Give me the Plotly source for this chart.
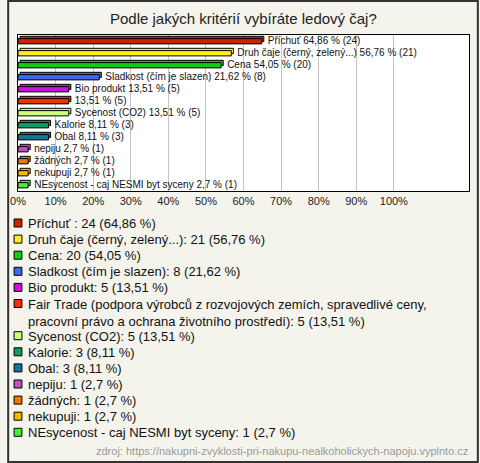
import textwrap

import plotly.graph_objects as go

# survey answers (n = 37)
names = [
    "Příchuť ", "Druh čaje (černý, zelený...)", "Cena", "Sladkost (čím je slazen)",
    "Bio produkt",
    "Fair Trade (podpora výrobců z rozvojových zemích, spravedlivé ceny, "
    "pracovní právo a ochrana životního prostředí)",
    "Sycenost (CO2)", "Kalorie", "Obal", "nepiju", "žádných", "nekupuji",
    "NEsycenost - caj NESMI byt syceny",
]
# label next to the bar (the long Fair Trade name is left out there)
bar_names = [
    "Příchuť ", "Druh čaje (černý, zelený...)", "Cena", "Sladkost (čím je slazen)",
    "Bio produkt", "", "Sycenost (CO2)", "Kalorie", "Obal", "nepiju", "žádných",
    "nekupuji", "NEsycenost - caj NESMI byt syceny",
]
counts = [24, 21, 20, 8, 5, 5, 5, 3, 3, 1, 1, 1, 1]
percents = [64.86, 56.76, 54.05, 21.62, 13.51, 13.51, 13.51, 8.11, 8.11, 2.7, 2.7, 2.7, 2.7]
tick_vals = [0, 10, 20, 30, 40, 50, 60, 70, 80, 90, 100]
tick_text = ["0%", "10%", "20%", "30%", "40%", "50%", "60%", "70%", "80%", "90%", "100%"]

colors = [
    "#cc2200", "#ffee22", "#11cc11", "#4466ee", "#cc11dd", "#ee3300", "#ccff77",
    "#119966", "#117799", "#bb55bb", "#ee7700", "#eebb00", "#44ee33",
]

W, H = 480, 463
L, R, T, B = 11, 10, 35, 272
PW, PH = W - L - R, H - T - B
FONT = "Arial, Liberation Sans, sans-serif"
BG = "#f4f4ec"


def fx(px):
    return (px - L) / PW


def fy(py):
    return (T + PH - py) / PH


def pct(p):
    return f"{p:g}".replace(".", ",")


fig = go.Figure()

# the "3d" face of each bar: shifted a couple of pixels right and up
fig.add_trace(go.Bar(
    y=list(range(len(percents))), x=percents, base=0.55, orientation="h",
    width=0.44, offset=-0.39, marker=dict(color=colors, line=dict(color="#000", width=1)),
    hoverinfo="skip", showlegend=False,
))
fig.add_trace(go.Bar(
    y=list(range(len(percents))), x=percents, base=0, orientation="h",
    width=0.44, offset=-0.2, marker=dict(color=colors, line=dict(color="#000", width=1)),
    showlegend=False,
))

# labels to the right of the bars
labels = [f"{n.strip()} {pct(p)} % ({c})".strip() for n, p, c in zip(bar_names, percents, counts)]
fig.add_trace(go.Scatter(
    y=list(range(len(percents))), x=[p + 1.6 for p in percents], mode="text",
    text=labels, textposition="middle right",
    textfont=dict(family=FONT, size=10, color="#111"),
    hoverinfo="skip", showlegend=False, cliponaxis=False,
))

annotations = [dict(
    text="Podle jakých kritérií vybíráte ledový čaj?", x=fx(240), y=fy(19),
    xref="paper", yref="paper", showarrow=False, xanchor="center", yanchor="middle",
    font=dict(family=FONT, size=15, color="#222"),
)]
shapes = [dict(
    type="rect", xref="paper", yref="paper", x0=fx(1), x1=fx(W - 1),
    y0=fy(1), y1=fy(H - 1), line=dict(color="#333", width=2), layer="below",
)]

# hand-made legend below the chart
line_h = 16.1
row = 0
for name, c, p, col in zip(names, counts, percents, colors):
    lines = textwrap.wrap(f"{name}: {c} ({pct(p)} %)", 70)
    ytop = 223 + row * line_h
    shapes.append(dict(
        type="rect", xref="paper", yref="paper", x0=fx(7), x1=fx(15),
        y0=fy(ytop - 4), y1=fy(ytop + 4), fillcolor=col, line=dict(color="#000", width=1),
    ))
    annotations.append(dict(
        text="<br>".join(lines), x=fx(19), y=fy(ytop - 9), xref="paper", yref="paper",
        showarrow=False, xanchor="left", yanchor="top", align="left",
        font=dict(family=FONT, size=13, color="#111"),
    ))
    row += len(lines)

annotations.append(dict(
    text="zdroj: https://nakupni-zvyklosti-pri-nakupu-nealkoholickych-napoju.vyplnto.cz",
    x=fx(471), y=fy(451), xref="paper", yref="paper", showarrow=False,
    xanchor="right", yanchor="middle", font=dict(family=FONT, size=11, color="#999"),
))

fig.update_layout(
    width=W, height=H, margin=dict(l=L, r=R, t=T, b=B, pad=0),
    paper_bgcolor=BG, plot_bgcolor="#fff", barmode="overlay",
    annotations=annotations, shapes=shapes,
    xaxis=dict(
        range=[0, 120], tickvals=tick_vals, ticktext=tick_text, showgrid=True,
        gridcolor="#c4c4c4", gridwidth=1, zeroline=False, showline=True, mirror=True,
        linecolor="#000", linewidth=1, ticks="", fixedrange=True,
        tickfont=dict(family=FONT, size=11, color="#222"),
    ),
    yaxis=dict(
        range=[len(percents) - 0.5, -0.5], showticklabels=False, showgrid=False,
        zeroline=False, showline=True, mirror=True, linecolor="#000", linewidth=1,
        ticks="", fixedrange=True,
    ),
)

# drop the default page margin so the figure sits at the window's corner
fig.write_html(
    "out.html",
    config={"displayModeBar": False},
    post_script="document.body.style.margin='0';",
)
